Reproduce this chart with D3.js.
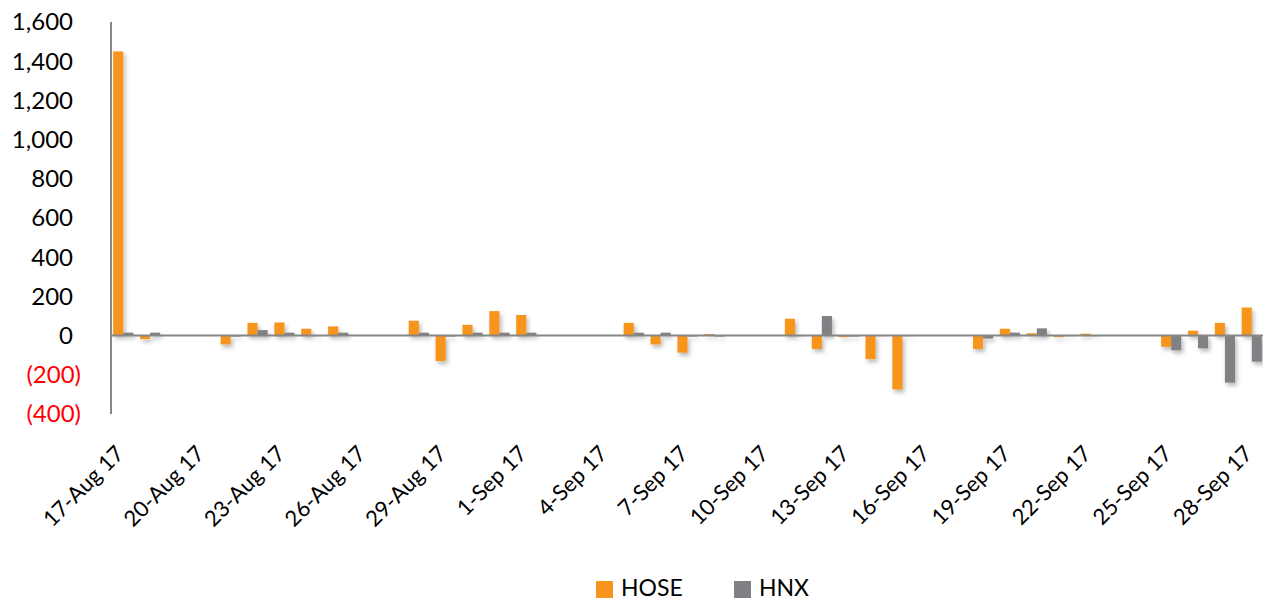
<!DOCTYPE html>
<html><head><meta charset="utf-8">
<script src="https://cdn.jsdelivr.net/npm/d3@7"></script>
<style>
html,body{margin:0;padding:0;background:#fff;}
svg{display:block;font-family:Lato,"Open Sans",sans-serif;}
</style></head>
<body>
<svg id="chart" width="1263" height="600"></svg>
<script>
const dates = ["17-Aug 17","18-Aug 17","19-Aug 17","20-Aug 17","21-Aug 17","22-Aug 17","23-Aug 17","24-Aug 17","25-Aug 17","26-Aug 17","27-Aug 17","28-Aug 17","29-Aug 17","30-Aug 17","31-Aug 17","1-Sep 17","2-Sep 17","3-Sep 17","4-Sep 17","5-Sep 17","6-Sep 17","7-Sep 17","8-Sep 17","9-Sep 17","10-Sep 17","11-Sep 17","12-Sep 17","13-Sep 17","14-Sep 17","15-Sep 17","16-Sep 17","17-Sep 17","18-Sep 17","19-Sep 17","20-Sep 17","21-Sep 17","22-Sep 17","23-Sep 17","24-Sep 17","25-Sep 17","26-Sep 17","27-Sep 17","28-Sep 17"];
const hose = [1450,-18,null,null,-45,65,67,35,47,null,null,76,-130,55,125,105,null,null,null,65,-45,-87,8,null,null,86,-68,-8,-120,-275,null,null,-68,35,12,-8,10,null,null,-57,25,65,143];
const hnx = [15,15,null,null,-5,28,15,-3,15,null,null,15,-5,15,15,15,null,null,null,15,15,-5,-5,null,null,-3,100,-5,-3,-3,null,null,-15,15,37,-3,-3,null,null,-75,-65,-240,-133];
const yTicks = [1600,1400,1200,1000,800,600,400,200,0,-200,-400];
const series = ["HOSE","HNX"];
const colors = {HOSE:"#F7941D", HNX:"#808184"};

const svg = d3.select("#chart");
const pLeft = 111, pRight = 1264, pTop = 22, pBottom = 414;

const defs = svg.append("defs");
const f = defs.append("filter").attr("id","sh").attr("x","-50%").attr("y","-50%").attr("width","200%").attr("height","200%");
f.append("feDropShadow").attr("dx",2).attr("dy",3).attr("stdDeviation",2).attr("flood-color","#000").attr("flood-opacity",0.28);

const x0 = d3.scaleBand().domain(dates).range([pLeft,pRight]).paddingInner(0.25).paddingOuter(0.08);
const x1 = d3.scaleBand().domain(series).range([0,x0.bandwidth()]);
const y = d3.scaleLinear().domain([-400,1600]).range([pBottom,pTop]);

const fmt = v => v < 0 ? "(" + d3.format(",")(-v) + ")" : d3.format(",")(v);

// y labels
svg.append("g").selectAll("text").data(yTicks).join("text")
  .attr("x", d => d < 0 ? 81 : 73)
  .attr("y", d => y(d))
  .attr("dy","0.35em")
  .attr("text-anchor","end")
  .attr("font-size",24)
  .attr("fill", d => d < 0 ? "#FF0000" : "#000")
  .text(fmt);

// bars
const data = [];
dates.forEach((d,i) => {
  if (hose[i] !== null) data.push({d, s:"HOSE", v:hose[i]});
  if (hnx[i] !== null) data.push({d, s:"HNX", v:hnx[i]});
});
svg.append("g").attr("filter","url(#sh)").selectAll("rect").data(data).join("rect")
  .attr("x", r => x0(r.d) + x1(r.s))
  .attr("width", x1.bandwidth())
  .attr("y", r => y(Math.max(0,r.v)))
  .attr("height", r => Math.abs(y(r.v) - y(0)))
  .attr("fill", r => colors[r.s]);

// axes lines
svg.append("line").attr("x1",pLeft).attr("x2",pRight).attr("y1",y(0)).attr("y2",y(0))
  .attr("stroke","#868686").attr("stroke-width",2);
svg.append("line").attr("x1",pLeft).attr("x2",pLeft).attr("y1",y(1600)).attr("y2",y(-400))
  .attr("stroke","#868686").attr("stroke-width",2);

// x labels
const tickDates = dates.filter((d,i) => i % 3 === 0);
svg.append("g").selectAll("text").data(tickDates).join("text")
  .attr("transform", d => `translate(${x0(d) + x0.bandwidth()/2 + 2},${455}) rotate(-45)`)
  .attr("text-anchor","end")
  .attr("font-size",22)
  .attr("fill","#000")
  .text(d => d);

// legend
const leg = svg.append("g");
const items = [{s:"HOSE", x:596}, {s:"HNX", x:734}];
items.forEach(it => {
  leg.append("rect").attr("x",it.x).attr("y",581).attr("width",17).attr("height",17).attr("fill",colors[it.s]);
  leg.append("text").attr("x",it.x+25).attr("y",596).attr("font-size",23).attr("fill","#000").text(it.s);
});
</script>
</body></html>
